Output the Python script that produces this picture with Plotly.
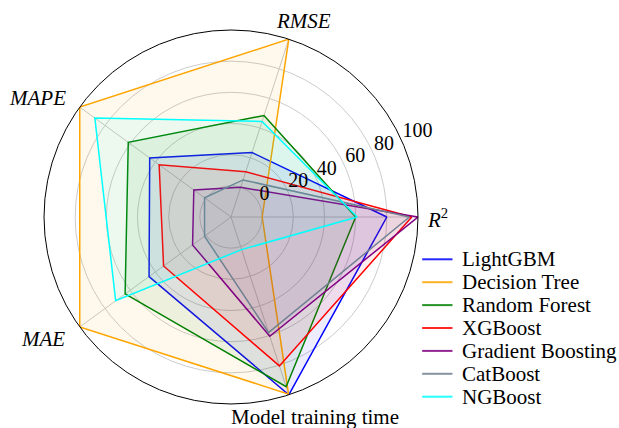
import plotly.graph_objects as go

# Metric axes (counter-clockwise from the right)
metrics = ["<i>R</i><sup>2</sup>", "<i>RMSE</i>", "<i>MAPE</i>", "<i>MAE</i>", "Model training time"]

# Normalised scores (0-100) per model, in metric order
models = ["LightGBM", "Decision Tree", "Random Forest", "XGBoost",
          "Gradient Boosting", "CatBoost", "NGBoost"]
lightgbm = [80, 23.5, 44.5, 45, 100]
decision_tree = [0, 100, 100, 100, 99.5]
random_forest = [60, 48.5, 61.5, 64, 94.5]
xgboost = [96, 10.5, 37, 33.5, 80.5]
gradient_boosting = [100, 0, 9.5, 10.5, 60.5]
catboost = [94.5, 5, 1, 1, 58]
ngboost = [61, 44.5, 88, 71.5, 2]

series = [lightgbm, decision_tree, random_forest, xgboost,
          gradient_boosting, catboost, ngboost]
colors = ["#0000ff", "#ffa500", "#008000", "#ff0000",
          "#800080", "#708090", "#00ffff"]

radial_ticks = [0, 20, 40, 60, 80, 100]

# one spoke per metric, evenly spread around the circle
angles = [360 * i / len(metrics) for i in range(len(metrics))]


def rgba(hex_color, alpha):
    h = hex_color.lstrip("#")
    r, g, b = int(h[0:2], 16), int(h[2:4], 16), int(h[4:6], 16)
    return f"rgba({r},{g},{b},{alpha})"


fig = go.Figure()
for name, vals, col in zip(models, series, colors):
    r = vals + vals[:1]
    theta = angles + angles[:1]
    fig.add_trace(go.Scatterpolar(
        r=r, theta=theta, mode="lines", fill="toself",
        fillcolor=rgba(col, 0.07), line=dict(width=0, color=col),
        showlegend=False, hoverinfo="skip"))
    fig.add_trace(go.Scatterpolar(
        r=r, theta=theta, mode="lines", name=name, showlegend=False,
        line=dict(width=1.5, color=col)))

serif = "Liberation Serif, Times New Roman, serif"

# radial scale labels along a ray just above 22.5 degrees
fig.add_trace(go.Scatterpolar(
    r=radial_ticks, theta=[23.5] * len(radial_ticks), mode="text",
    text=[str(v) for v in radial_ticks], textposition="top right",
    textfont=dict(size=20, family=serif, color="black"),
    cliponaxis=False, showlegend=False, hoverinfo="skip"))

# metric names around the rim (paper x, paper y, anchor)
metric_label_pos = [
    (425 / 619, 1 - 218 / 428, "left"),
    (303.5 / 619, 1 - 21 / 428, "center"),
    (68 / 619, 1 - 98 / 428, "right"),
    (67 / 619, 1 - 339 / 428, "right"),
    (314.5 / 619, 1 - 417 / 428, "center"),
]
for label, (lx, ly, anchor) in zip(metrics, metric_label_pos):
    fig.add_annotation(x=lx, y=ly, xref="paper", yref="paper", text=label,
                       showarrow=False, xanchor=anchor, yanchor="middle",
                       font=dict(size=21, family=serif, color="black"))

# Compact legend: short coloured line + label per model
leg_x0, leg_x1, leg_tx = 0.682, 0.731, 0.743
leg_top, leg_step = 1 - 259.3 / 428, 22.9 / 428
for i, (name, col) in enumerate(zip(models, colors)):
    yy = leg_top - i * leg_step
    fig.add_shape(type="line", xref="paper", yref="paper",
                  x0=leg_x0, x1=leg_x1, y0=yy, y1=yy,
                  line=dict(color=rgba(col, 0.85), width=2))
    fig.add_annotation(x=leg_tx, y=yy, xref="paper", yref="paper",
                       text=name, showarrow=False, xanchor="left",
                       yanchor="middle",
                       font=dict(size=21, family=serif, color="black"))

fig.update_layout(
    width=619, height=428,
    margin=dict(l=0, r=0, t=0, b=0),
    paper_bgcolor="white",
    showlegend=False,
    font=dict(family=serif, color="black"),
    polar=dict(
        domain=dict(x=[0.0711, 0.6753], y=[0.0561, 0.9299]),
        bgcolor="white",
        radialaxis=dict(
            range=[-20, 100], tickvals=radial_ticks,
            showticklabels=False, showline=False, ticks="",
            gridcolor="#cccccc", gridwidth=1),
        angularaxis=dict(
            thetaunit="degrees", tickvals=angles, showticklabels=False,
            rotation=0, direction="counterclockwise",
            showline=True, linecolor="black", linewidth=1,
            gridcolor="#c8c8c8", gridwidth=1, ticks=""),
    ),
)

fig.write_html("out.html")
